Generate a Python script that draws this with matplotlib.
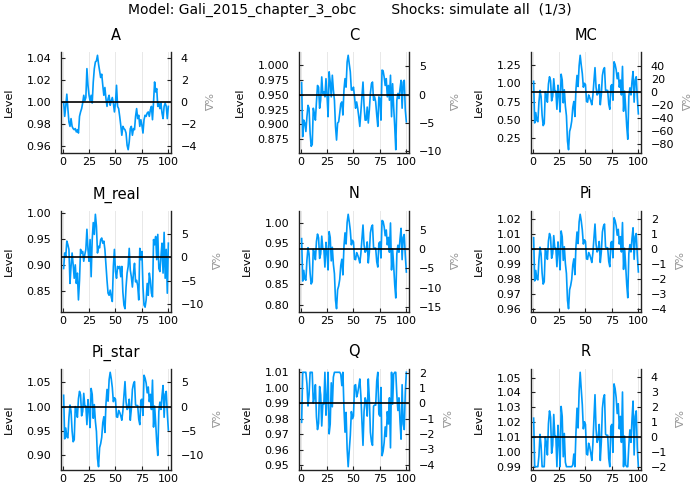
import matplotlib
matplotlib.use("Agg")
import matplotlib.pyplot as plt
import numpy as np

plt.rcParams['font.family'] = ['DejaVu Sans']

periods = list(range(1, 101))

A = [1.000, 0.987, 0.996, 1.007, 0.994, 0.982, 0.978, 0.985, 0.978, 0.976,
     0.975, 0.976, 0.973, 0.975, 0.972, 0.987, 0.991, 0.994, 0.999, 1.006,
     1.001, 1.004, 1.030, 1.015, 1.006, 1.001, 1.006, 0.999, 1.018, 1.030,
     1.036, 1.037, 1.042, 1.034, 1.028, 1.022, 1.025, 1.015, 1.006, 1.013,
     1.003, 0.996, 1.003, 1.006, 0.997, 1.001, 1.004, 0.999, 0.991, 0.999,
     1.015, 0.996, 0.994, 0.987, 0.979, 0.970, 0.978, 0.976, 0.975, 0.972,
     0.961, 0.957, 0.964, 0.976, 0.978, 0.970, 0.976, 0.975, 0.987, 0.994,
     0.985, 0.988, 0.978, 0.984, 0.979, 0.972, 0.984, 0.988, 0.987, 0.990,
     0.991, 0.987, 0.993, 0.996, 0.984, 1.000, 1.018, 1.009, 1.012, 0.996,
     0.999, 0.994, 0.999, 0.990, 0.985, 0.996, 0.999, 0.996, 0.985, 0.996]

C = [0.9700, 0.8797, 0.9073, 0.9025, 0.8883, 0.9130, 0.9320, 0.9272, 0.8854, 0.8636,
     0.8664, 0.9272, 0.9187, 0.9073, 0.9377, 0.9652, 0.9624, 0.9272, 0.9405, 0.9795,
     0.9519, 0.9548, 0.9462, 0.9766, 0.9491, 0.9130, 0.9880, 0.9709, 0.9462, 0.9823,
     0.9576, 0.9405, 0.8968, 0.8740, 0.9025, 0.9044, 0.9187, 0.9348, 0.9377, 0.9158,
     0.9576, 0.9766, 0.9624, 1.0042, 1.0156, 1.0013, 0.9880, 0.9576, 0.9576, 0.9624,
     0.9462, 0.9272, 0.9377, 0.9272, 0.9130, 0.8968, 0.9215, 0.9462, 0.9709, 0.9320,
     0.9073, 0.9073, 0.9291, 0.9025, 0.9244, 0.9519, 0.9681, 0.9709, 0.9405, 0.9462,
     0.9377, 0.9158, 0.8968, 0.9462, 0.9434, 0.9073, 0.9909, 0.9899, 0.9795, 0.9652,
     0.9766, 0.9462, 0.9652, 0.9405, 0.9823, 0.9130, 0.9681, 0.9291, 0.8968, 0.8579,
     0.9405, 0.9519, 0.9434, 0.9595, 0.9738, 0.9272, 0.9709, 0.9738, 0.9244, 0.9044]

MC = [1.028, 0.461, 0.602, 0.496, 0.478, 0.744, 0.904, 0.824, 0.567, 0.425,
      0.452, 0.886, 0.842, 0.744, 0.992, 1.090, 1.037, 0.762, 0.824, 1.063,
      0.895, 0.895, 0.647, 0.975, 0.842, 0.611, 1.125, 1.045, 0.735, 0.913,
      0.691, 0.558, 0.213, 0.097, 0.345, 0.399, 0.487, 0.673, 0.753, 0.549,
      0.921, 1.108, 0.957, 1.240, 1.382, 1.249, 1.134, 0.948, 1.001, 0.983,
      0.753, 0.744, 0.842, 0.806, 0.762, 0.709, 0.833, 1.028, 1.214, 0.948,
      0.842, 0.868, 0.983, 0.709, 0.851, 1.108, 1.187, 1.214, 0.904, 0.904,
      0.904, 0.718, 0.647, 0.966, 0.983, 0.771, 1.294, 1.258, 1.187, 1.063,
      1.143, 0.948, 1.045, 0.842, 1.231, 0.620, 0.895, 0.673, 0.416, 0.239,
      0.824, 0.939, 0.842, 1.028, 1.161, 0.744, 1.045, 1.090, 0.806, 0.585]

M_real = [0.893, 0.923, 0.916, 0.946, 0.939, 0.930, 0.864, 0.897, 0.923, 0.900,
          0.874, 0.900, 0.864, 0.884, 0.832, 0.870, 0.930, 0.923, 0.926, 0.907,
          0.920, 0.930, 0.969, 0.930, 0.907, 0.949, 0.877, 0.949, 0.982, 0.959,
          0.998, 0.975, 0.923, 0.936, 0.933, 0.949, 0.952, 0.942, 0.946, 0.930,
          0.900, 0.870, 0.845, 0.841, 0.851, 0.838, 0.829, 0.897, 0.930, 0.887,
          0.874, 0.897, 0.893, 0.897, 0.877, 0.897, 0.847, 0.822, 0.815, 0.857,
          0.884, 0.897, 0.932, 0.890, 0.877, 0.857, 0.884, 0.903, 0.867, 0.870,
          0.860, 0.832, 0.932, 0.910, 0.926, 0.857, 0.822, 0.818, 0.832, 0.864,
          0.841, 0.884, 0.870, 0.845, 0.838, 0.949, 0.939, 0.955, 0.910, 0.959,
          0.893, 0.887, 0.916, 0.942, 0.884, 0.963, 0.874, 0.930, 0.845, 0.942]

N = [0.961, 0.858, 0.884, 0.863, 0.860, 0.909, 0.939, 0.924, 0.877, 0.851,
     0.856, 0.935, 0.928, 0.910, 0.954, 0.972, 0.963, 0.913, 0.924, 0.967,
     0.936, 0.936, 0.892, 0.952, 0.927, 0.885, 0.978, 0.964, 0.907, 0.940,
     0.899, 0.876, 0.812, 0.791, 0.837, 0.846, 0.862, 0.896, 0.911, 0.873,
     0.942, 0.975, 0.948, 1.000, 1.020, 1.002, 0.981, 0.946, 0.957, 0.953,
     0.911, 0.910, 0.927, 0.921, 0.913, 0.902, 0.925, 0.960, 0.994, 0.946,
     0.928, 0.932, 0.953, 0.902, 0.928, 0.975, 0.989, 0.994, 0.939, 0.938,
     0.938, 0.905, 0.892, 0.950, 0.953, 0.914, 1.005, 1.003, 0.990, 0.968,
     0.982, 0.946, 0.964, 0.928, 0.999, 0.885, 0.936, 0.896, 0.849, 0.817,
     0.924, 0.945, 0.928, 0.960, 0.986, 0.910, 0.964, 0.971, 0.920, 0.880]

Pi = [1.0074, 0.9786, 0.9856, 0.9800, 0.9793, 0.9926, 1.0011, 0.9968, 0.9839, 0.9765,
      0.9780, 1.0000, 0.9979, 0.9930, 1.0053, 1.0102, 1.0077, 0.9937, 0.9968, 1.0088,
      1.0004, 1.0004, 0.9881, 1.0046, 0.9975, 0.9860, 1.0119, 1.0081, 0.9923, 1.0014,
      0.9902, 0.9835, 0.9657, 0.9601, 0.9727, 0.9755, 0.9797, 0.9891, 0.9933, 0.9828,
      1.0018, 1.0112, 1.0035, 1.0179, 1.0230, 1.0186, 1.0126, 1.0032, 1.0060, 1.0049,
      0.9933, 0.9930, 0.9975, 0.9961, 0.9937, 0.9909, 0.9972, 1.0070, 1.0165, 1.0032,
      0.9979, 0.9993, 1.0049, 0.9909, 0.9982, 1.0112, 1.0151, 1.0165, 1.0011, 1.0007,
      1.0007, 0.9916, 0.9881, 1.0042, 1.0049, 0.9940, 1.0207, 1.0189, 1.0154, 1.0091,
      1.0130, 1.0032, 1.0081, 0.9979, 1.0175, 0.9863, 1.0004, 0.9891, 0.9762, 0.9674,
      0.9968, 1.0028, 0.9979, 1.0070, 1.0140, 0.9930, 1.0081, 1.0102, 0.9958, 0.9846]

Pi_star = [1.023, 0.934, 0.956, 0.938, 0.936, 0.977, 1.003, 0.990, 0.950, 0.928,
           0.932, 1.000, 0.994, 0.978, 1.016, 1.031, 1.024, 0.981, 0.990, 1.027,
           1.001, 1.001, 0.963, 1.014, 0.992, 0.957, 1.037, 1.025, 0.976, 1.004,
           0.970, 0.949, 0.894, 0.877, 0.916, 0.924, 0.937, 0.967, 0.979, 0.947,
           1.005, 1.035, 1.011, 1.055, 1.070, 1.057, 1.039, 1.010, 1.018, 1.015,
           0.979, 0.978, 0.992, 0.988, 0.981, 0.972, 0.991, 1.022, 1.051, 1.010,
           0.994, 0.998, 1.015, 0.972, 0.995, 1.035, 1.046, 1.051, 1.003, 1.002,
           1.002, 0.974, 0.963, 1.013, 1.015, 0.982, 1.064, 1.058, 1.048, 1.028,
           1.040, 1.010, 1.025, 0.994, 1.054, 0.958, 1.001, 0.967, 0.927, 0.900,
           0.990, 1.009, 0.994, 1.022, 1.043, 0.978, 1.025, 1.031, 0.987, 0.952]

Q = [0.9778, 1.0101, 1.0101, 1.0101, 1.0101, 1.0027, 0.9883, 0.9955, 1.0101, 1.0101,
     1.0101, 0.9901, 0.9936, 1.0021, 0.9813, 0.9731, 0.9772, 1.0009, 0.9955, 0.9754,
     0.9895, 0.9895, 1.0101, 0.9824, 0.9942, 1.0101, 0.9703, 0.9767, 1.0033, 0.9878,
     1.0070, 1.0101, 1.0101, 1.0101, 1.0101, 1.0101, 1.0101, 1.0089, 1.0015, 1.0101,
     0.9872, 0.9714, 0.9842, 0.9607, 0.9491, 0.9596, 0.9692, 0.9847, 0.9801, 0.9818,
     1.0015, 1.0021, 0.9942, 0.9967, 1.0009, 1.0058, 0.9948, 0.9784, 0.9629, 0.9847,
     0.9936, 0.9913, 0.9818, 1.0058, 0.9930, 0.9714, 0.9652, 0.9629, 0.9883, 0.9889,
     0.9889, 1.0045, 1.0101, 0.9830, 0.9818, 1.0003, 0.9562, 0.9590, 0.9646, 0.9748,
     0.9686, 0.9847, 0.9767, 0.9936, 0.9613, 1.0101, 0.9895, 1.0089, 1.0101, 1.0101,
     0.9955, 0.9854, 0.9936, 0.9784, 0.9669, 1.0021, 0.9767, 0.9731, 0.9973, 1.0101]

R = [1.0227, 0.9900, 0.9900, 0.9900, 0.9900, 0.9973, 1.0118, 1.0045, 0.9900, 0.9900,
     0.9900, 1.0100, 1.0064, 0.9979, 1.0191, 1.0276, 1.0233, 0.9991, 1.0045, 1.0252,
     1.0106, 1.0106, 0.9900, 1.0179, 1.0058, 0.9900, 1.0306, 1.0239, 0.9967, 1.0124,
     0.9930, 0.9900, 0.9900, 0.9900, 0.9900, 0.9900, 0.9900, 0.9912, 0.9985, 0.9900,
     1.0130, 1.0294, 1.0161, 1.0409, 1.0536, 1.0421, 1.0318, 1.0155, 1.0203, 1.0185,
     0.9985, 0.9979, 1.0058, 1.0033, 0.9991, 0.9942, 1.0052, 1.0221, 1.0385, 1.0155,
     1.0064, 1.0088, 1.0185, 0.9942, 1.0070, 1.0294, 1.0361, 1.0385, 1.0118, 1.0112,
     1.0112, 0.9955, 0.9900, 1.0173, 1.0185, 0.9997, 1.0458, 1.0427, 1.0367, 1.0258,
     1.0324, 1.0155, 1.0239, 1.0064, 1.0403, 0.9900, 1.0106, 0.9912, 0.9900, 0.9900,
     1.0045, 1.0148, 1.0064, 1.0221, 1.0342, 0.9979, 1.0239, 1.0276, 1.0027, 0.9900]

names = ["A", "C", "MC", "M_real", "N", "Pi", "Pi_star", "Q", "R"]
series = [A, C, MC, M_real, N, Pi, Pi_star, Q, R]
steady_states = [1.0, 0.950, 0.886, 0.915, 0.9355, 1.0, 1.0, 0.99, 1.01]
level_ticks = [
    [0.96, 0.98, 1.00, 1.02, 1.04],
    [0.875, 0.900, 0.925, 0.950, 0.975, 1.000],
    [0.25, 0.50, 0.75, 1.00, 1.25],
    [0.85, 0.90, 0.95, 1.00],
    [0.80, 0.85, 0.90, 0.95, 1.00],
    [0.96, 0.97, 0.98, 0.99, 1.00, 1.01, 1.02],
    [0.90, 0.95, 1.00, 1.05],
    [0.95, 0.96, 0.97, 0.98, 0.99, 1.00, 1.01],
    [0.99, 1.00, 1.01, 1.02, 1.03, 1.04, 1.05],
]
level_fmt = ["%.2f", "%.3f", "%.2f", "%.2f", "%.2f", "%.2f", "%.2f", "%.2f", "%.2f"]
pct_ticks = [
    [-4, -2, 0, 2, 4],
    [-10, -5, 0, 5],
    [-80, -60, -40, -20, 0, 20, 40],
    [-10, -5, 0, 5],
    [-15, -10, -5, 0, 5],
    [-4, -3, -2, -1, 0, 1, 2],
    [-10, -5, 0, 5],
    [-4, -3, -2, -1, 0, 1, 2],
    [-2, -1, 0, 1, 2, 3, 4],
]
x_ticks = [0, 25, 50, 75, 100]

line_color = "#009AFA"
W, H = 700, 500
fig = plt.figure(figsize=(7, 5), dpi=100)

lefts = [61, 299, 531]
tops = [52, 211, 369]
pw, ph = 110, 101

fig.text(0.5, 1 - 9.5 / H,
         "Model: Gali_2015_chapter_3_obc        Shocks: simulate all  (1/3)",
         ha="center", va="center", fontsize=10)

def fmt_minus(v):
    s = "%d" % v
    return s.replace("-", "\u2212")

for i, (name, y) in enumerate(zip(names, series)):
    r, c = divmod(i, 3)
    ax = fig.add_axes([lefts[c] / W, 1 - (tops[r] + ph) / H, pw / W, ph / H])
    ax.plot(periods, y, color=line_color, lw=1.2, zorder=3)
    ax.axhline(steady_states[i], color="black", lw=1.2, zorder=4)
    lo, hi = min(y), max(y)
    rng = hi - lo
    ylo, yhi = lo - 0.035 * rng, hi + 0.035 * rng
    ax.set_ylim(ylo, yhi)
    ax.set_xlim(-1.5, 102.5)
    ax.set_xticks(x_ticks)
    ax.set_xticklabels([str(v) for v in x_ticks])
    ax.set_yticks(level_ticks[i])
    ax.set_yticklabels([level_fmt[i] % v for v in level_ticks[i]])
    ax.grid(axis="x", color="#e8e8e8", lw=0.7)
    ax.set_axisbelow(True)
    for s in ["top", "right"]:
        ax.spines[s].set_visible(False)
    for s in ["left", "bottom"]:
        ax.spines[s].set_color("#222222")
        ax.spines[s].set_linewidth(1.0)
    ax.tick_params(direction="in", length=3, labelsize=8, colors="#222222",
                   labelcolor="black")
    ax.tick_params(axis="y", pad=7)
    ax.tick_params(axis="x", pad=3)
    ax.set_title(name, fontsize=10.5, pad=9)
    ax.set_ylabel("Level", fontsize=8, labelpad=9)

    ss = steady_states[i]
    ax2 = ax.twinx()
    ax2.set_ylim((ylo / ss - 1) * 100, (yhi / ss - 1) * 100)
    ax2.set_yticks(pct_ticks[i])
    ax2.set_yticklabels([fmt_minus(v) for v in pct_ticks[i]])
    for s in ["top", "left", "bottom"]:
        ax2.spines[s].set_visible(False)
    ax2.spines["right"].set_color("#222222")
    ax2.spines["right"].set_linewidth(1.0)
    ax2.tick_params(direction="in", length=3, labelsize=8, colors="#222222",
                    labelcolor="black", pad=7)
    ax2.set_ylabel("%\u0394", fontsize=8, color="#999999", labelpad=3,
                   rotation=-90, va="bottom")

fig.savefig("out.png", dpi=100)
